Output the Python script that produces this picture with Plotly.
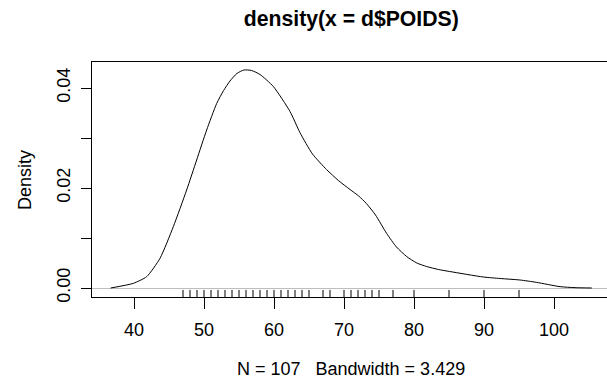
import plotly.graph_objects as go

# density curve
dens_x = [36.67, 39.9, 41.81, 43.71, 45.62, 47.52, 48.95, 50.38, 51.81, 52.8, 53.71,
          54.7, 55.7, 56.8, 58.0, 59.9, 62.29, 63.7, 65.5, 67.5, 69.2, 70.86, 72.1,
          73.2, 74.5, 76.1, 77.5, 78.95, 80.4, 81.8, 83.5, 85.1, 89.9,
          92.3, 95.14, 97.5, 100.86, 103.0, 105.4]
dens_y = [0.0, 0.00093, 0.00227, 0.00593, 0.01227, 0.0196, 0.0256, 0.0316, 0.0369, 0.0395, 0.0414,
          0.0429, 0.0436, 0.0435, 0.0427, 0.0403, 0.0353, 0.0311, 0.0268, 0.0237, 0.0215, 0.0197, 0.0184,
          0.0169, 0.0146, 0.0109, 0.0082, 0.0063, 0.0050, 0.0043, 0.0037, 0.0033, 0.0022,
          0.0019, 0.0016, 0.00113, 0.00027, 0.00007, 0.0]

# rug (observed POIDS values)
rug_vals = [47, 48, 49, 50, 51, 52, 53, 54, 55, 56, 57, 58, 59, 60, 61, 62, 63, 64, 65,
            67, 68, 70, 71, 72, 73, 74, 75, 77, 80, 85, 90, 95]

x_ticks = [40, 50, 60, 70, 80, 90, 100]
y_ticks = [0.0, 0.01, 0.02, 0.03, 0.04]
y_tick_text = ["0.00", "", "0.02", "", "0.04"]

title_text = "density(x = d$POIDS)"
xlab = "N = 107\u00a0\u00a0\u00a0Bandwidth = 3.429"
ylab = "Density"

x_range = [34.0, 107.571]
y_range = [-0.0018, 0.0452]

FONT = "Liberation Sans, Arial, Helvetica, sans-serif"
W, H = 607, 381
ML, MT, MB = 92, 62, 84
PW, PH = W - ML, H - MT - MB

fig = go.Figure()
fig.add_trace(go.Scatter(x=dens_x, y=dens_y, mode="lines",
                         line=dict(color="black", width=1, shape="spline", smoothing=0.6),
                         hoverinfo="skip"))

rx, ry = [], []
rug_top = y_range[0] + 0.03 * (y_range[1] - y_range[0])
for v in rug_vals:
    rx += [v, v, None]
    ry += [y_range[0], rug_top, None]
fig.add_trace(go.Scatter(x=rx, y=ry, mode="lines",
                         line=dict(color="black", width=1), hoverinfo="skip"))

fig.update_layout(
    width=W, height=H,
    margin=dict(l=ML, r=0, t=MT, b=MB),
    paper_bgcolor="white", plot_bgcolor="white",
    showlegend=False,
    font=dict(family=FONT, size=18, color="black"),
    title=dict(text="<b>" + title_text + "</b>", x=(351.3 - ML) / PW, xref="paper",
               xanchor="center", y=1 - 18.5 / H, yref="container", yanchor="middle",
               font=dict(family=FONT, size=21.2, color="black")),
    xaxis=dict(range=x_range, tickvals=x_ticks, ticks="outside", ticklen=11,
               tickcolor="black", tickwidth=1, showline=True, linecolor="black",
               linewidth=1, mirror=True, showgrid=False, zeroline=False,
               ticklabelstandoff=5, tickfont=dict(family=FONT, size=18)),
    yaxis=dict(range=y_range, tickvals=y_ticks, ticktext=y_tick_text, ticks="outside",
               ticklen=10, tickcolor="black", tickwidth=1, showline=True,
               linecolor="black", linewidth=1, mirror=False, showgrid=False,
               zeroline=True, zerolinecolor="#BEBEBE", zerolinewidth=1,
               tickangle=-90, ticklabelstandoff=4, tickfont=dict(family=FONT, size=18)),
    annotations=[
        dict(text=xlab, xref="paper", yref="paper", x=(351.3 - ML) / PW,
             y=(297 - 369) / PH, xanchor="center", yanchor="middle", showarrow=False,
             font=dict(family=FONT, size=18, color="black")),
        dict(text=ylab, xref="paper", yref="paper", x=(25 - ML) / PW,
             y=(297 - 180) / PH, xanchor="center", yanchor="middle", showarrow=False,
             textangle=-90, font=dict(family=FONT, size=18, color="black")),
    ],
)

fig.write_html("out.html")
